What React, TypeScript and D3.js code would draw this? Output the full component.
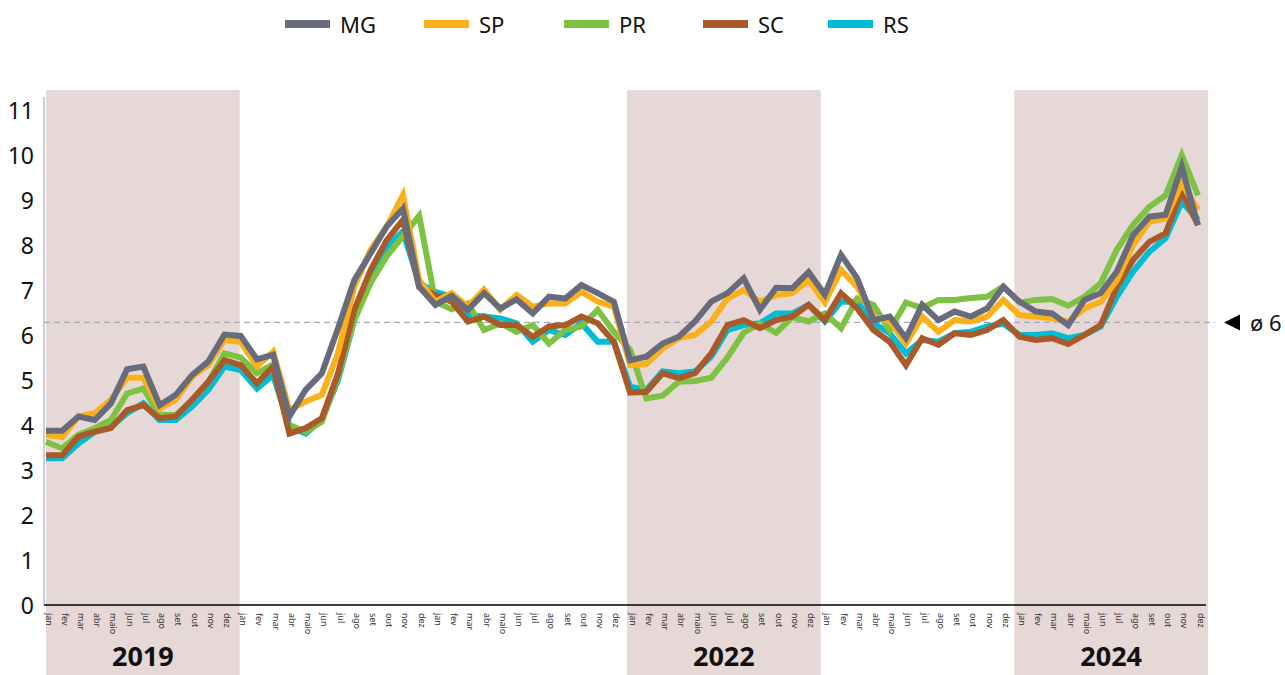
import React from "react";
import * as d3 from "d3";

const monthLabels = ["jan", "fev", "mar", "abr", "maio", "jun", "jul", "ago", "set", "out", "nov", "dez"];
const years = [2019, 2020, 2021, 2022, 2023, 2024];
const shadedYears = [2019, 2022, 2024];
const yTicks = [0, 1, 2, 3, 4, 5, 6, 7, 8, 9, 10, 11];
const averageValue = 6.28;
const averageLabel = "ø 6";

const seriesNames = ["MG", "SP", "PR", "SC", "RS"];
const seriesColors = ["#676b7b", "#fbb017", "#7dc242", "#aa5a2a", "#00bcd4"];

const MG = [
  3.87, 3.87, 4.19, 4.11, 4.48, 5.24, 5.3, 4.44, 4.67, 5.11, 5.41, 6.01,
  5.98, 5.46, 5.56, 4.19, 4.78, 5.15, 6.15, 7.22, 7.81, 8.41, 8.81, 7.07,
  6.67, 6.87, 6.56, 6.93, 6.59, 6.79, 6.48, 6.85, 6.81, 7.11, 6.93, 6.74,
  5.44, 5.52, 5.81, 5.96, 6.3, 6.74, 6.93, 7.26, 6.56, 7.05, 7.04, 7.4,
  6.9, 7.78, 7.26, 6.33, 6.41, 5.93, 6.67, 6.33, 6.52, 6.41, 6.59, 7.07,
  6.74, 6.52, 6.48, 6.22, 6.78, 6.93, 7.41, 8.22, 8.63, 8.67, 9.74, 8.44,
];
const SP = [
  3.78, 3.73, 4.19, 4.26, 4.56, 5.05, 5.05, 4.37, 4.56, 5.07, 5.33, 5.89,
  5.85, 5.3, 5.63, 4.33, 4.52, 4.67, 5.6, 7.07, 7.89, 8.41, 9.11, 7.22,
  6.74, 6.93, 6.63, 7.01, 6.56, 6.89, 6.63, 6.7, 6.7, 6.96, 6.74, 6.63,
  5.33, 5.36, 5.7, 5.93, 6.0, 6.3, 6.81, 7.0, 6.74, 6.89, 6.93, 7.22,
  6.72, 7.44, 7.07, 6.41, 6.3, 5.81, 6.41, 6.07, 6.33, 6.3, 6.41, 6.78,
  6.44, 6.41, 6.37, 6.3, 6.59, 6.74, 7.22, 8.0, 8.52, 8.59, 9.37, 8.78,
];
const PR = [
  3.63, 3.48, 3.78, 3.93, 4.11, 4.7, 4.81, 4.22, 4.22, 4.55, 4.95, 5.59,
  5.5, 5.15, 5.35, 4.0, 3.85, 4.07, 5.07, 6.33, 7.15, 7.75, 8.2, 8.65,
  6.74, 6.57, 6.7, 6.11, 6.26, 6.07, 6.22, 5.81, 6.11, 6.19, 6.56, 6.07,
  5.67, 4.59, 4.65, 4.96, 4.98, 5.05, 5.5, 6.05, 6.25, 6.05, 6.4, 6.3,
  6.48, 6.15, 6.81, 6.67, 6.1, 6.72, 6.6, 6.78, 6.78, 6.82, 6.85, 7.08,
  6.72, 6.78, 6.8, 6.65, 6.85, 7.15, 7.9, 8.45, 8.85, 9.1, 10.0, 9.1,
];
const SC = [
  3.33, 3.33, 3.74, 3.85, 3.93, 4.33, 4.44, 4.15, 4.19, 4.56, 4.96, 5.44,
  5.33, 4.93, 5.3, 3.81, 3.93, 4.15, 5.15, 6.56, 7.44, 8.11, 8.56, 7.07,
  6.89, 6.74, 6.3, 6.41, 6.22, 6.22, 5.96, 6.19, 6.22, 6.41, 6.26, 5.85,
  4.72, 4.74, 5.15, 5.04, 5.15, 5.59, 6.22, 6.33, 6.15, 6.33, 6.41, 6.67,
  6.33, 6.93, 6.59, 6.11, 5.85, 5.33, 5.93, 5.78, 6.04, 6.0, 6.11, 6.33,
  5.96, 5.89, 5.93, 5.8, 6.0, 6.22, 7.07, 7.67, 8.07, 8.26, 9.19, 8.44,
];
const RS = [
  3.26, 3.26, 3.59, 3.85, 3.96, 4.26, 4.48, 4.11, 4.11, 4.41, 4.78, 5.3,
  5.22, 4.81, 5.11, 3.96, 3.81, 4.11, 5.0, 6.33, 7.22, 7.96, 8.3, 7.15,
  6.96, 6.85, 6.44, 6.41, 6.37, 6.26, 5.85, 6.11, 6.0, 6.26, 5.85, 5.85,
  4.85, 4.78, 5.19, 5.15, 5.19, 5.52, 6.11, 6.22, 6.26, 6.48, 6.48, 6.67,
  6.3, 6.74, 6.74, 6.26, 6.04, 5.59, 5.89, 5.85, 6.04, 6.07, 6.19, 6.25,
  6.0, 6.0, 6.04, 5.93, 6.0, 6.19, 6.85, 7.41, 7.85, 8.15, 8.96, 8.56,
];
const seriesValues = [MG, SP, PR, SC, RS];
const drawOrder = [4, 2, 3, 1, 0];

const FONT = "'Noto Sans', 'Open Sans', sans-serif";

export default function App() {
  const W = 1285;
  const H = 675;
  const n = years.length * monthLabels.length;
  const idx = d3.range(n);

  const x = d3.scalePoint<number>().domain(idx).range([46, 1198]);
  const band = d3.scaleBand<number>().domain(idx).range([46, 1208]).padding(0);
  const y = d3.scaleLinear().domain([0, 11]).range([605, 110]);

  const line = d3
    .line<number>()
    .x((_, i) => x(i) as number)
    .y((d) => y(d));

  const legendX = [285, 424, 564, 703, 828];

  return (
    <svg
      width={W}
      height={H}
      style={{ position: "absolute", left: 0, top: 0, display: "block", background: "#fff" }}
      fontFamily={FONT}
    >
      {/* shaded years */}
      {shadedYears.map((yr) => {
        const start = years.indexOf(yr) * 12;
        const x0 = band(start) as number;
        const x1 = (band(start + 11) as number) + band.bandwidth();
        return (
          <g key={yr}>
            <rect x={x0} y={90} width={x1 - x0} height={H - 90} fill="#e6d8d6" />
            <text
              x={(x0 + x1) / 2}
              y={666}
              textAnchor="middle"
              fontSize={27}
              fontWeight={700}
              fill="#111"
            >
              {yr}
            </text>
          </g>
        );
      })}

      {/* y axis line */}
      <line x1={44} x2={44} y1={97} y2={y(0)} stroke="#b9bccb" strokeWidth={1.5} />

      {/* y tick labels */}
      {yTicks.map((t) => (
        <text
          key={t}
          x={34}
          y={y(t)}
          textAnchor="end"
          dominantBaseline="central"
          fontSize={23}
          fill="#111"
        >
          {t}
        </text>
      ))}

      {/* average dashed line */}
      <line
        x1={44}
        x2={1215}
        y1={y(averageValue)}
        y2={y(averageValue)}
        stroke="#a6aabb"
        strokeWidth={1.2}
        strokeDasharray="6,4"
      />
      <path
        d={`M1224,${y(averageValue)} L1240,${y(averageValue) - 8} L1240,${y(averageValue) + 8} Z`}
        fill="#000"
      />
      <text
        x={1250}
        y={y(averageValue)}
        dominantBaseline="central"
        fontSize={22}
        fill="#111"
      >
        {averageLabel}
      </text>

      {/* series lines */}
      {drawOrder.map((s) => (
        <path
          key={seriesNames[s]}
          d={line(seriesValues[s]) as string}
          fill="none"
          stroke={seriesColors[s]}
          strokeWidth={6}
          strokeLinejoin="miter"
          strokeMiterlimit={10}
        />
      ))}

      {/* baseline */}
      <line x1={44} x2={1206} y1={y(0)} y2={y(0)} stroke="#000" strokeWidth={1.5} />

      {/* month labels */}
      {idx.map((i) => (
        <text
          key={i}
          transform={`translate(${(x(i) as number) + 3},${613}) rotate(90)`}
          dominantBaseline="central"
          textAnchor="start"
          fontSize={9}
          fill="#333"
        >
          {monthLabels[i % 12]}
        </text>
      ))}

      {/* legend */}
      {seriesNames.map((name, i) => (
        <g key={name} transform={`translate(${legendX[i]},24)`}>
          <line x1={0} x2={45} y1={0} y2={0} stroke={seriesColors[i]} strokeWidth={8} />
          <text x={55} y={0} dominantBaseline="central" fontSize={22} fill="#111">
            {name}
          </text>
        </g>
      ))}
    </svg>
  );
}
